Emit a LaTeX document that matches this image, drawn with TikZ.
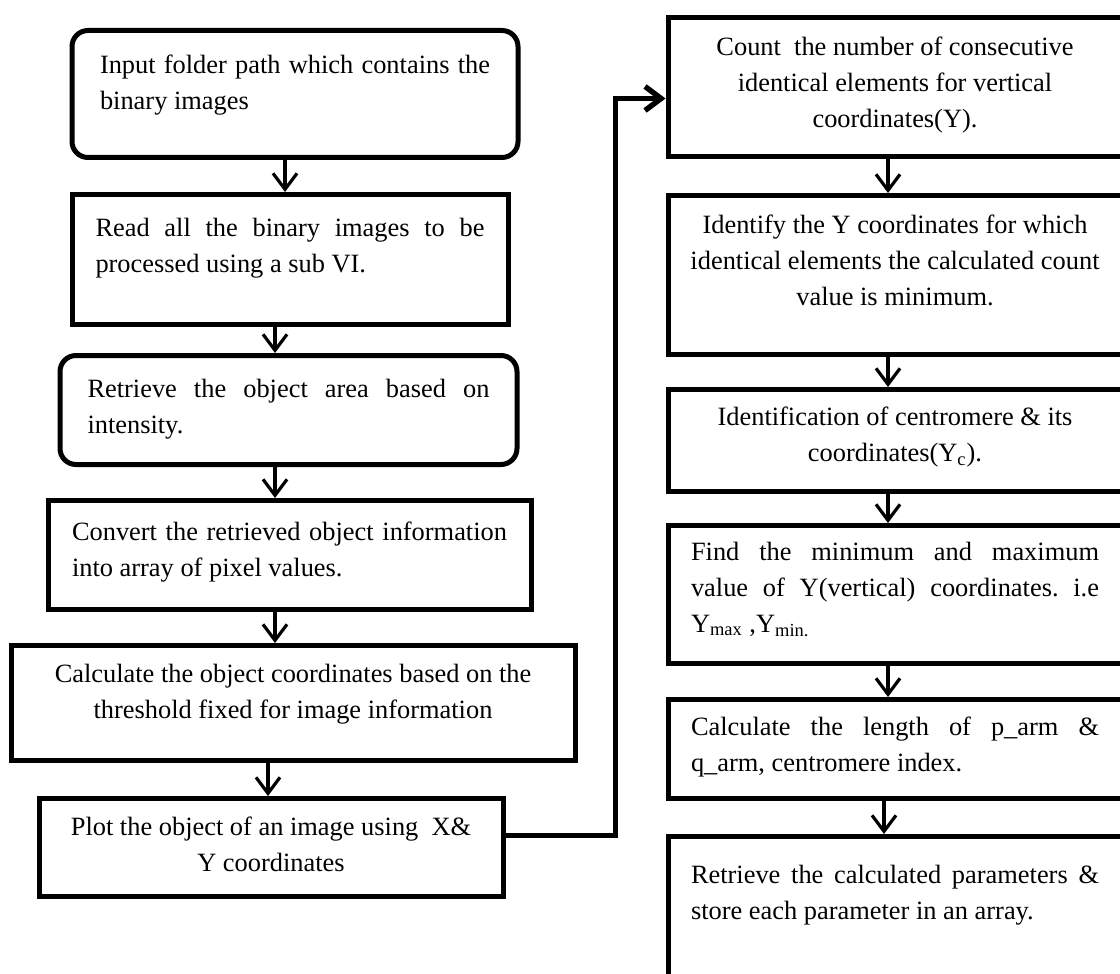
\documentclass[tikz,border=0pt]{standalone}
\usepackage{fontspec}
\setmainfont{Liberation Serif}
\usetikzlibrary{arrows.meta}
\tolerance=9999
\hyphenpenalty=10000
\hbadness=10000
\frenchspacing

\newcommand{\boxbody}[4]{\parbox[t][#1][t]{#2}{\vspace*{#3}#4}}

\tikzset{
  stepbox/.style={draw, line width=2.5pt, rectangle, anchor=north, inner ysep=0pt,
    font=\fontsize{13.2}{18}\selectfont},
  roundbox/.style={stepbox, rounded corners=8pt},
  flow/.style={line width=1.6pt, -{Straight Barb[length=8pt,width=12pt]}},
  link/.style={line width=2.7pt, -{Straight Barb[length=8pt,width=12pt]}}
}

\begin{document}
\begin{tikzpicture}[x=0.5pt,y=-0.5pt]

      \useasboundingbox (0,0) rectangle (1120,974);
      \clip (0,0) rectangle (1120,974);

      \node[roundbox, inner xsep=14pt] (l1) at (295,28)
        {\boxbody{63.5pt}{195pt}{12pt}{Input folder path which contains the\linebreak binary images}};
      \node[stepbox, inner xsep=11.75pt] (l2) at (290,192)
        {\boxbody{65pt}{194.5pt}{12pt}{Read all the binary images to be\linebreak processed using a sub VI.}};
      \node[roundbox, inner xsep=13.75pt] (l3) at (288.5,353)
        {\boxbody{54.5pt}{201pt}{12pt}{Retrieve the object area based on\linebreak intensity.}};
      \node[stepbox, inner xsep=12pt] (l4) at (289.5,498)
        {\boxbody{54.5pt}{217.5pt}{10.7pt}{Convert the retrieved object information\linebreak into array of pixel values.}};
      \node[stepbox, inner xsep=6pt] (l5) at (293,643)
        {\boxbody{57.5pt}{270pt}{9.2pt}{\centering Calculate the object coordinates based on the\\ threshold fixed for image information}};
      \node[stepbox, inner xsep=6pt] (l6) at (271,796)
        {\boxbody{49pt}{220pt}{9.2pt}{\centering Plot the object of an image using\ \ X\&\\ Y coordinates}};

      \node[stepbox, inner xsep=6pt] (r1) at (895,15)
        {\boxbody{69.5pt}{215pt}{9.7pt}{\centering Count\ \ the number of consecutive\\ identical elements for vertical\\ coordinates(Y).}};
      \node[stepbox, inner xsep=6pt] (r2) at (895,193)
        {\boxbody{79.5pt}{215pt}{9.7pt}{\centering Identify the Y coordinates for which\\ identical elements the calculated count\\ value is minimum.}};
      \node[stepbox, inner xsep=6pt] (r3) at (895,387)
        {\boxbody{51pt}{215pt}{8.7pt}{\centering Identification of centromere \& its\\ coordinates(Y\textsubscript{c}).}};
      \node[stepbox, inner xsep=11.5pt] (r4) at (895,523)
        {\boxbody{69pt}{204pt}{8.2pt}{Find the minimum and maximum\linebreak value of Y(vertical) coordinates. i.e\linebreak Y\textsubscript{max} ,Y\textsubscript{min.}}};
      \node[stepbox, inner xsep=11.5pt] (r5) at (895,697)
        {\boxbody{49.5pt}{204pt}{8.7pt}{Calculate the length of p\_arm \&\linebreak q\_arm, centromere index.}};
      \node[stepbox, inner xsep=11.5pt] (r6) at (895,834)
        {\boxbody{85pt}{204pt}{14.2pt}{Retrieve the calculated parameters \&\linebreak store each parameter in an array.}};

      \draw[flow] (285,0 |- l1.south) -- (285,0 |- l2.north);
      \draw[flow] (275,0 |- l2.south) -- (275,0 |- l3.north);
      \draw[flow] (275,0 |- l3.south) -- (275,0 |- l4.north);
      \draw[flow] (275,0 |- l4.south) -- (275,0 |- l5.north);
      \draw[flow] (268,0 |- l5.south) -- (268,0 |- l6.north);

      \draw[flow] (888,0 |- r1.south) -- (888,0 |- r2.north);
      \draw[flow] (888,0 |- r2.south) -- (888,0 |- r3.north);
      \draw[flow] (888,0 |- r3.south) -- (888,0 |- r4.north);
      \draw[flow] (888,0 |- r4.south) -- (888,0 |- r5.north);
      \draw[flow] (884,0 |- r5.south) -- (884,0 |- r6.north);

      \draw[link] ([yshift=6pt]l6.east) -| ([xshift=-25pt,yshift=-5.75pt]r1.west)
        -- ([yshift=-5.75pt]r1.west);

    \end{tikzpicture}
\end{document}
